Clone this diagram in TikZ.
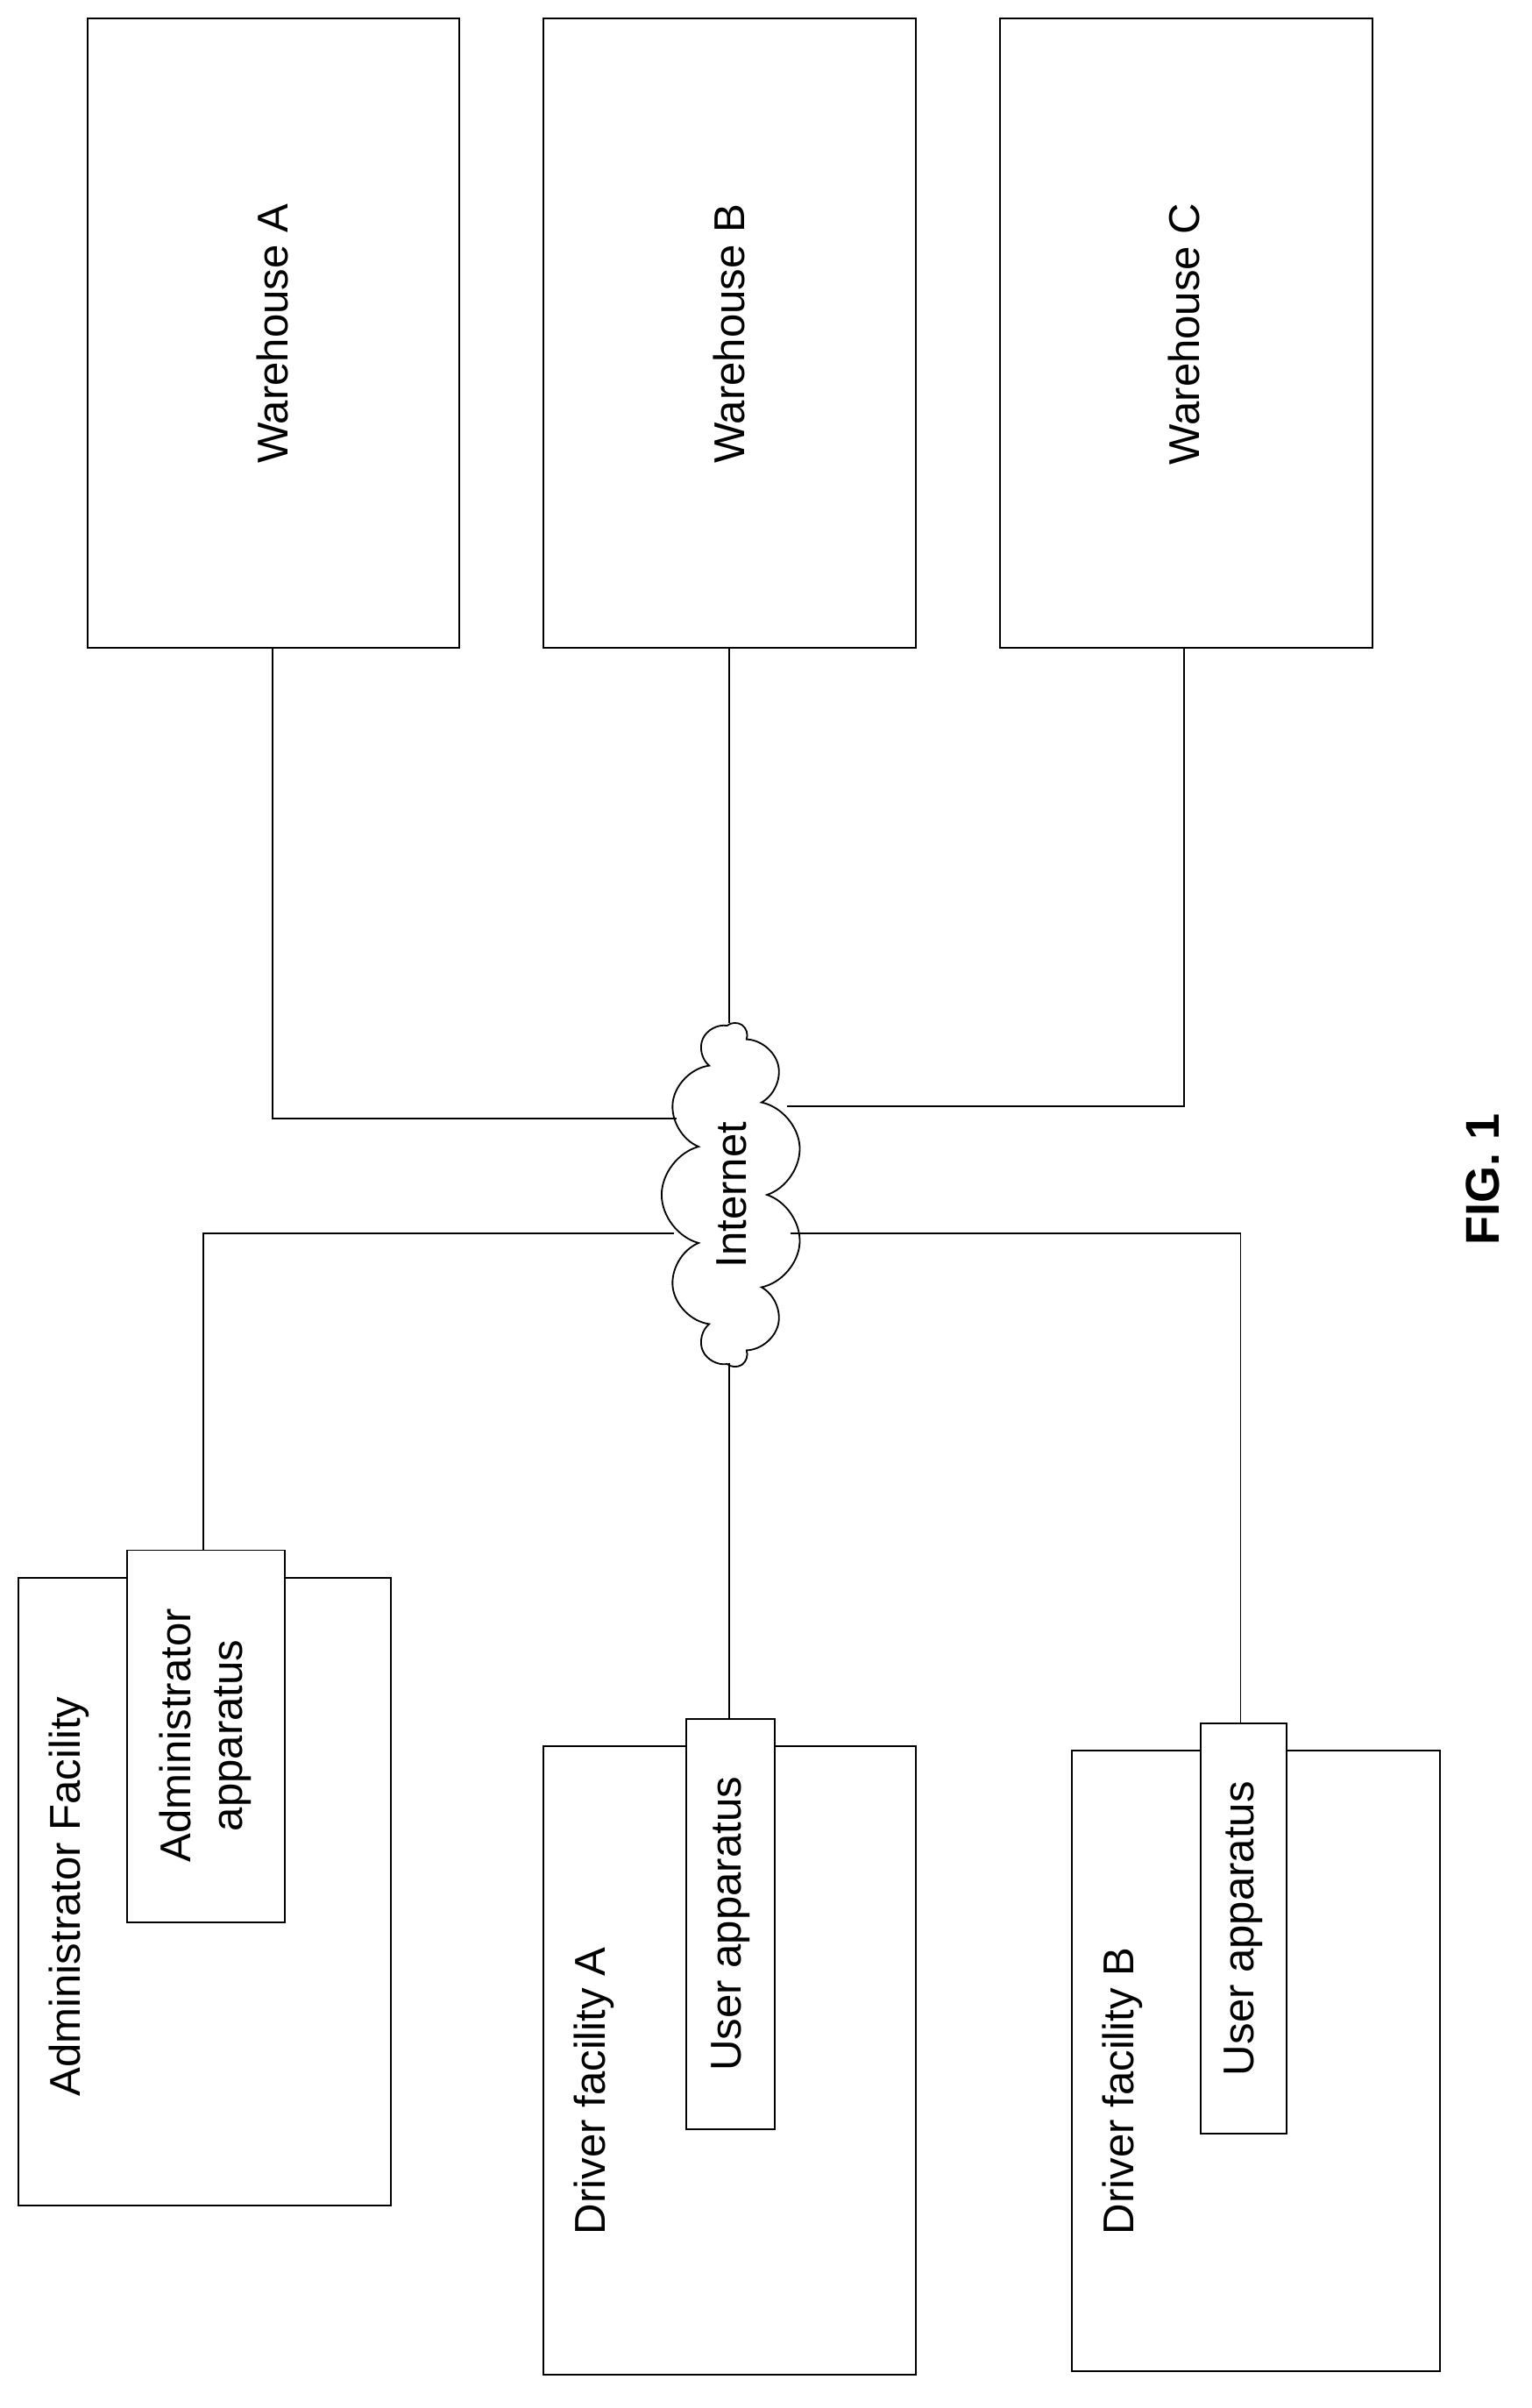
\documentclass[tikz,border=0pt]{standalone}
\usepackage{fontspec}
\setmainfont{Liberation Sans}
\usetikzlibrary{shapes.symbols}
\begin{document}
\begin{tikzpicture}[x=0.05cm,y=-0.05cm,
  box/.style={draw,line width=1.5pt,fill=white},
  lbl/.style={font=\fontsize{40}{48}\selectfont,rotate=90},
  ln/.style={line width=1.5pt}]
\useasboundingbox (0,0) rectangle (1000,1572);
% warehouses
\draw[box] (57,12) rectangle (300,423); \node[lbl] (wa) at (178,218) {Warehouse A};
\draw[box] (355,12) rectangle (598,423); \node[lbl] (wb) at (476,218) {Warehouse B};
\draw[box] (653,12) rectangle (896,423); \node[lbl] (wc) at (773,218) {Warehouse C};
\coordinate (wab) at (178,423); \coordinate (wbb) at (476,423); \coordinate (wcb) at (773,423);
% cloud
\node[cloud,draw,line width=1.5pt,rotate=90,minimum width=11.2cm,minimum height=4.6cm,cloud puffs=11,aspect=2.4,inner sep=0pt,font=\fontsize{40}{48}\selectfont] (net) at (478,780) {Internet};
% facilities
\draw[box] (12,1030) rectangle (255,1440);
\node[lbl] (af) at (45,1238) {Administrator Facility};
\draw[box] (83,1012) rectangle (186,1255);
\node[lbl,align=center] (aa) at (134,1133) {Administrator\\apparatus};
\draw[box] (355,1140) rectangle (598,1550);
\node[lbl] (dfa) at (388,1365) {Driver facility A};
\draw[box] (448,1122) rectangle (506,1390);
\node[lbl] (ua) at (477,1256) {User apparatus};
\draw[box] (700,1143) rectangle (940,1548);
\node[lbl] (dfb) at (733,1365) {Driver facility B};
\draw[box] (784,1125) rectangle (840,1393);
\node[lbl] (ub) at (812,1259) {User apparatus};
\coordinate (aat) at (133,1012); \coordinate (uat) at (476,1122); \coordinate (ubt) at (810,1125);
% connectors
\draw[ln] (wab) -- (178,730) -- (442,730);
\draw[ln] (wbb) -- (476,668);
\draw[ln] (wcb) -- (773,722) -- (514,722);
\draw[ln] (aat) -- (133,805) -- (440,805);
\draw[ln] (516,805) -- (810,805) -- (ubt);
\draw[ln] (476,890) -- (uat);
\node[rotate=90,font=\bfseries\fontsize{44}{52}\selectfont] (fig) at (968,770) {FIG. 1};
\end{tikzpicture}
\end{document}
